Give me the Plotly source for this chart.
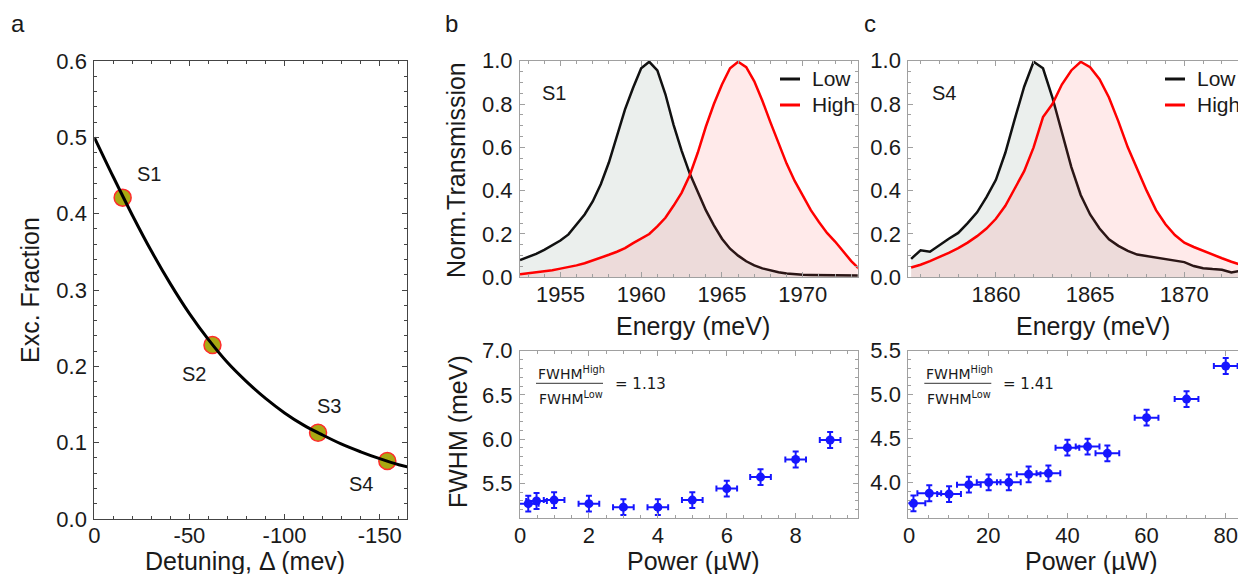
import plotly.graph_objects as go

# ---- panel a : exciton fraction vs detuning
detuning_curve = [0, -10, -20, -30, -40, -50, -60, -70, -80, -90, -100,
                  -110, -120, -130, -140, -150, -160, -165]
exc_curve = [0.5, 0.448, 0.398, 0.351, 0.308, 0.269, 0.235, 0.205, 0.18,
             0.158, 0.139, 0.123, 0.11, 0.098, 0.088, 0.079, 0.071, 0.068]
detuning_pts = [-14.9, -62.1, -117.6, -154.0]
exc_pts = [0.421, 0.228, 0.113, 0.076]
sample_names = ["S1", "S2", "S3", "S4"]

# ---- panel b : sample S1
energy_s1 = [1952.5, 1953.0, 1953.5, 1954.0, 1954.5, 1955.0, 1955.5, 1956.0,
             1956.5, 1957.0, 1957.5, 1958.0, 1958.5, 1959.0, 1959.5, 1960.0,
             1960.5, 1961.0, 1961.5, 1962.0, 1962.5, 1963.0, 1963.5, 1964.0,
             1964.5, 1965.0, 1965.5, 1966.0, 1966.5, 1967.0, 1967.5, 1968.0,
             1968.5, 1969.0, 1969.5, 1970.0, 1970.5, 1971.0, 1971.5, 1972.0,
             1972.5, 1973.0, 1973.5]
low_s1 = [0.08, 0.093, 0.108, 0.127, 0.148, 0.17, 0.198, 0.243, 0.29, 0.35,
          0.43, 0.53, 0.655, 0.775, 0.875, 0.965, 0.995, 0.955, 0.845, 0.705,
          0.585, 0.48, 0.395, 0.31, 0.24, 0.178, 0.132, 0.1, 0.074, 0.055,
          0.041, 0.031, 0.023, 0.018, 0.014, 0.012, 0.011, 0.01, 0.009, 0.009,
          0.008, 0.007, 0.008]
high_s1 = [0.014, 0.018, 0.022, 0.027, 0.033, 0.04, 0.047, 0.055, 0.065,
           0.077, 0.09, 0.104, 0.118, 0.135, 0.158, 0.18, 0.2, 0.235, 0.275,
           0.33, 0.39, 0.47, 0.575, 0.695, 0.8, 0.89, 0.965, 0.995, 0.97,
           0.905, 0.815, 0.715, 0.62, 0.525, 0.445, 0.375, 0.31, 0.255, 0.205,
           0.165, 0.12, 0.075, 0.038]
power_s1 = [0.24, 0.48, 0.99, 2.0, 3.0, 4.0, 5.0, 6.0, 6.98, 8.0, 9.0]
fwhm_s1 = [5.27, 5.3, 5.31, 5.27, 5.23, 5.23, 5.31, 5.44, 5.57, 5.77, 5.99]

# ---- panel c : sample S4
energy_s4 = [1855.5, 1856.0, 1856.5, 1857.0, 1857.5, 1858.0, 1858.5, 1859.0,
             1859.5, 1860.0, 1860.5, 1861.0, 1861.5, 1862.0, 1862.5, 1863.0,
             1863.5, 1864.0, 1864.5, 1865.0, 1865.5, 1866.0, 1866.5, 1867.0,
             1867.5, 1868.0, 1868.5, 1869.0, 1869.5, 1870.0, 1870.5, 1871.0,
             1871.5, 1872.0, 1872.5, 1873.0]
low_s4 = [0.085, 0.125, 0.118, 0.15, 0.178, 0.205, 0.25, 0.3, 0.37, 0.45,
          0.575, 0.73, 0.88, 0.995, 0.965, 0.83, 0.665, 0.51, 0.38, 0.29,
          0.225, 0.175, 0.145, 0.122, 0.105, 0.098, 0.09, 0.085, 0.078, 0.07,
          0.052, 0.042, 0.038, 0.035, 0.022, 0.03]
high_s4 = [0.045, 0.058, 0.075, 0.093, 0.113, 0.135, 0.16, 0.19, 0.225, 0.27,
           0.33, 0.41, 0.49, 0.6, 0.74, 0.8, 0.89, 0.955, 0.995, 0.97, 0.915,
           0.83, 0.72, 0.6, 0.5, 0.4, 0.31, 0.245, 0.195, 0.16, 0.14, 0.122,
           0.105, 0.088, 0.072, 0.058]
power_s4 = [1.1, 5.1, 10.1, 15.1, 20.1, 25.2, 30.2, 35.2, 40.0, 45.1, 50.1,
            60.0, 70.1, 80.0]
fwhm_s4 = [3.765, 3.88, 3.87, 3.977, 4.004, 4.004, 4.095, 4.106, 4.398, 4.41,
           4.333, 4.739, 4.95, 5.326]

ratio_s1 = "1.13"
ratio_s4 = "1.41"
legend_names = ["Low", "High"]

W, H = 1238, 574
FONT = "Liberation Sans, Arial, sans-serif"
BLUE = "#1616ff"
LOW_C = "#111111"
HIGH_C = "#ff0000"


def px(x):
    return x / W


def py(y):
    return 1 - y / H


def axis(dom, rng, dtick, minor, color, standoff=2, **kw):
    d = dict(domain=dom, range=rng, dtick=dtick, showline=True, linecolor=color,
             linewidth=1, mirror="ticks", ticks="inside", ticklen=5,
             tickcolor=color, tickwidth=1,
             minor=dict(ticks="inside", ticklen=3, dtick=minor, tickcolor=color),
             showgrid=False, zeroline=False, automargin=False,
             ticklabelstandoff=standoff,
             tickfont=dict(family=FONT, size=22, color="#1a1a1a"))
    d.update(kw)
    return d


fig = go.Figure()

# panel a
fig.add_trace(go.Scatter(x=detuning_pts, y=exc_pts, mode="markers",
                         marker=dict(size=17, color="#a9a912",
                                     line=dict(color="#ff2b2b", width=1.5)),
                         xaxis="x", yaxis="y"))
fig.add_trace(go.Scatter(x=detuning_curve, y=exc_curve, mode="lines",
                         line=dict(color="black", width=3, shape="spline"),
                         xaxis="x", yaxis="y"))

# panel b top
fig.add_trace(go.Scatter(x=energy_s1, y=low_s1, mode="lines", name="Low",
                         line=dict(color=LOW_C, width=2.5), fill="tozeroy",
                         fillcolor="rgba(165,180,175,0.22)",
                         xaxis="x2", yaxis="y2"))
fig.add_trace(go.Scatter(x=energy_s1, y=high_s1, mode="lines", name="High",
                         line=dict(color=HIGH_C, width=2.5), fill="tozeroy",
                         fillcolor="rgba(255,60,60,0.11)",
                         xaxis="x2", yaxis="y2"))

# panel b bottom
fig.add_trace(go.Scatter(x=power_s1, y=fwhm_s1, mode="markers",
                         marker=dict(size=9, color=BLUE),
                         error_x=dict(type="constant", value=0.3, thickness=2,
                                      width=3, color=BLUE),
                         error_y=dict(type="constant", value=0.09, thickness=2,
                                      width=3, color=BLUE),
                         xaxis="x3", yaxis="y3"))

# panel c top
fig.add_trace(go.Scatter(x=energy_s4, y=low_s4, mode="lines", name="Low",
                         line=dict(color=LOW_C, width=2.5), fill="tozeroy",
                         fillcolor="rgba(165,180,175,0.22)",
                         xaxis="x4", yaxis="y4"))
fig.add_trace(go.Scatter(x=energy_s4, y=high_s4, mode="lines", name="High",
                         line=dict(color=HIGH_C, width=2.5), fill="tozeroy",
                         fillcolor="rgba(255,60,60,0.11)",
                         xaxis="x4", yaxis="y4"))

# panel c bottom
fig.add_trace(go.Scatter(x=power_s4, y=fwhm_s4, mode="markers",
                         marker=dict(size=9, color=BLUE),
                         error_x=dict(type="constant", value=3, thickness=2,
                                      width=3, color=BLUE),
                         error_y=dict(type="constant", value=0.09, thickness=2,
                                      width=3, color=BLUE),
                         xaxis="x5", yaxis="y5"))

dark = "#444444"
grey = "#a0a0a0"
top_dom = [py(277.3), py(60.7)]
bot_dom = [py(518.3), py(350.7)]
XS = -3  # x tick labels sit close to the axis

fig.update_layout(
    width=W, height=H, plot_bgcolor="white", paper_bgcolor="white",
    margin=dict(l=0, r=0, t=0, b=0, autoexpand=False), showlegend=False,
    xaxis=axis([px(94.3), px(407.3)], [0, -164.5], None, 10, dark, XS, anchor="y",
               tickmode="array", tickvals=[0, -50, -100, -150],
               ticktext=["0", "-50", "-100", "-150"]),
    yaxis=axis([py(519), py(61)], [0, 0.6], 0.1, 0.02, dark, anchor="x",
               tickformat=".1f"),
    xaxis2=axis([px(520), px(857.7)], [1952.5, 1973.4], 5, 1, grey, XS, anchor="y2"),
    yaxis2=axis(top_dom, [0, 1.0], 0.2, 0.05, grey, anchor="x2", tickformat=".1f"),
    xaxis3=axis([px(520), px(857.7)], [0, 9.8], 2, 0.5, grey, XS, anchor="y3"),
    yaxis3=axis(bot_dom, [5.104, 7.0], 0.5, 0.1, grey, anchor="x3", tickformat=".1f"),
    xaxis4=axis([px(908.3), 1.0], [1855.35, 1872.85], 5, 1, grey, XS, anchor="y4"),
    yaxis4=axis(top_dom, [0, 1.0], 0.2, 0.05, grey, anchor="x4", tickformat=".1f",
                mirror=False),
    xaxis5=axis([px(908.3), 1.0], [-0.2, 83.1], 20, 5, grey, XS, anchor="y5"),
    yaxis5=axis(bot_dom, [3.595, 5.5], 0.5, 0.1, grey, anchor="x5", tickformat=".1f",
                mirror=False),
)

ann = []


def text(x, y, s, size=25, angle=0, family=FONT, xanchor="center"):
    ann.append(dict(x=px(x), y=py(y), xref="paper", yref="paper", text=s,
                    showarrow=False, textangle=angle, xanchor=xanchor,
                    yanchor="middle", font=dict(family=family, size=size,
                                                color="#1a1a1a")))


# panel letters
text(18, 24, "a", 24)
text(451, 24, "b", 24)
text(870, 24, "c", 24)

# axis titles
text(30, 290, "Exc. Fraction", angle=-90)
text(245, 561, "Detuning, Δ (mev)")
text(456, 170, "Norm.Transmission", angle=-90)
text(458, 432, "FWHM (meV)", angle=-90)
text(693, 326, "Energy (meV)")
text(1093, 326, "Energy (meV)")
text(693, 561, "Power (µW)")
text(1091, 561, "Power (µW)")

# sample labels in panel a
shifts = [(26, 24), (-18, -29), (11, 27), (-26, -23)]
for xv, yv, name, (sx, sy) in zip(detuning_pts, exc_pts, sample_names, shifts):
    ann.append(dict(x=xv, y=yv, xref="x", yref="y", text=name, showarrow=False,
                    xshift=sx, yshift=sy,
                    font=dict(family=FONT, size=20, color="#1a1a1a")))

# sample labels in spectra
text(554, 93, "S1", 20)
text(944, 93, "S4", 20)

# legends of the spectra panels
for lx in (780, 1165):
    for name, col, ly in zip(legend_names, [LOW_C, HIGH_C], [79, 105]):
        fig.add_shape(type="line", xref="paper", yref="paper",
                      x0=px(lx), x1=px(lx + 20), y0=py(ly), y1=py(ly),
                      line=dict(color=col, width=3))
        text(lx + 30, ly, name, 21, xanchor="left")

# width ratio annotations
for left, ratio in [(520, ratio_s1), (908.3, ratio_s4)]:
    text(left + 51, 373, "FWHM<sup>High</sup>", 14, family="DejaVu Sans")
    text(left + 51, 398, "FWHM<sup>Low</sup>", 14, family="DejaVu Sans")
    text(left + 93, 384, "= " + ratio, 15, family="DejaVu Sans", xanchor="left")
    fig.add_shape(type="line", xref="paper", yref="paper",
                  x0=px(left + 16), x1=px(left + 83), y0=py(383.3), y1=py(383.3),
                  line=dict(color="#333333", width=1))

fig.update_layout(annotations=ann)
fig.write_html("out.html", config={"displayModeBar": False},
               post_script="document.body.style.margin='0';")
